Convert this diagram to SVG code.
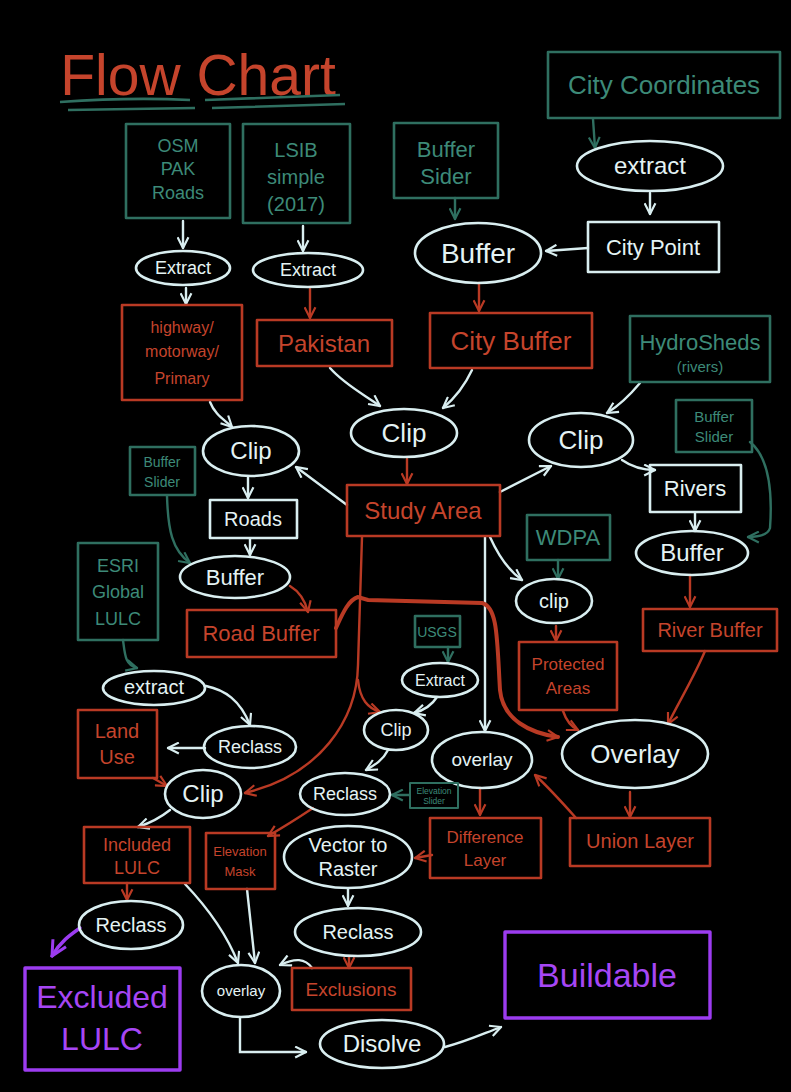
<svg xmlns="http://www.w3.org/2000/svg" width="791" height="1092" viewBox="0 0 791 1092">
<style>
text{font-family:"Liberation Sans",Arial,sans-serif;text-anchor:middle}
.w{fill:none;stroke:#d9eef0;stroke-width:2.6;stroke-linejoin:round}
.r{fill:none;stroke:#b93a24;stroke-width:2.6;stroke-linejoin:round}
.t{fill:none;stroke:#2f6f60;stroke-width:2.6;stroke-linejoin:round}
.p{fill:none;stroke:#9c3cf0;stroke-width:3.4;stroke-linejoin:round}
.tw{fill:#e4f3f4}
.tr{fill:#c5442c}
.tt{fill:#3d8a78}
.tp{fill:#a646f5}
.cw{fill:none;stroke:#d9eef0;stroke-width:2.4;stroke-linecap:round;marker-end:url(#aw)}
.cr{fill:none;stroke:#b93a24;stroke-width:2.4;stroke-linecap:round;marker-end:url(#ar)}
.ct{fill:none;stroke:#2f6f60;stroke-width:2.4;stroke-linecap:round;marker-end:url(#at)}
.cp{fill:none;stroke:#9c3cf0;stroke-width:3.4;stroke-linecap:round;marker-end:url(#ap)}
</style>
<defs>
<marker id="aw" viewBox="0 0 12 12" refX="11" refY="6" markerWidth="13" markerHeight="13" markerUnits="userSpaceOnUse" orient="auto"><path d="M1,1 L11,6 L1,11" fill="none" stroke="#d9eef0" stroke-width="2"/></marker>
<marker id="ar" viewBox="0 0 12 12" refX="11" refY="6" markerWidth="13" markerHeight="13" markerUnits="userSpaceOnUse" orient="auto"><path d="M1,1 L11,6 L1,11" fill="none" stroke="#b93a24" stroke-width="2"/></marker>
<marker id="at" viewBox="0 0 12 12" refX="11" refY="6" markerWidth="13" markerHeight="13" markerUnits="userSpaceOnUse" orient="auto"><path d="M1,1 L11,6 L1,11" fill="none" stroke="#2f6f60" stroke-width="2"/></marker>
<marker id="ap" viewBox="0 0 12 12" refX="11" refY="6" markerWidth="18" markerHeight="18" markerUnits="userSpaceOnUse" orient="auto"><path d="M1,1 L11,6 L1,11" fill="none" stroke="#9c3cf0" stroke-width="2"/></marker>
</defs>
<rect x="0" y="0" width="791" height="1092" fill="#000"/>

<g id="title">
<text x="198" y="95" class="tr" font-size="57">Flow Chart</text>
<path class="t" d="M60,102 Q130,97 190,100 M68,110 L195,108 M205,100 L340,95 M212,108 L345,104"/>
</g>

<g id="connectors">
<path class="cw" d="M183,221 L183,248"/>
<path class="cw" d="M186,288 L186,304"/>
<path class="cw" d="M303,226 L303,251"/>
<path class="cw" d="M650,193 L650,214"/>
<path class="cw" d="M588,248 L546,251"/>
<path class="cw" d="M210,402 C215,415 225,420 232,427"/>
<path class="cw" d="M330,368 C345,385 365,395 380,406"/>
<path class="cw" d="M472,370 C465,385 455,398 443,408"/>
<path class="cw" d="M640,383 C630,395 620,405 607,413"/>
<path class="cw" d="M347,505 L296,467"/>
<path class="cw" d="M500,492 L551,466"/>
<path class="cw" d="M622,460 C632,467 645,470 655,470"/>
<path class="cw" d="M248,477 L248,498"/>
<path class="cw" d="M250,539 L250,555"/>
<path class="cw" d="M695,513 L695,531"/>
<path class="cw" d="M206,686 C225,690 240,700 250,725"/>
<path class="cw" d="M205,748 L168,748"/>
<path class="cw" d="M485,537 L485,731"/>
<path class="cw" d="M490,537 C498,555 508,570 522,580"/>
<path class="cw" d="M437,697 C432,705 425,710 414,713"/>
<path class="cw" d="M388,750 C383,760 375,765 366,770"/>
<path class="cw" d="M170,810 C160,818 150,823 138,827"/>
<path class="cw" d="M185,884 C205,905 225,930 238,963"/>
<path class="cw" d="M247,889 L255,963"/>
<path class="cw" d="M312,968 C305,958 295,958 280,965"/>
<path class="cw" d="M348,889 L348,906"/>
<path class="cw" d="M240,1018 L240,1052 L306,1052"/>
<path class="cw" d="M445,1047 C465,1042 480,1035 501,1027"/>

<path class="cr" d="M310,289 L310,318"/>
<path class="cr" d="M479,283 L479,311"/>
<path class="cr" d="M407,459 L407,484"/>
<path class="cr" d="M690,575 L690,607"/>
<path class="cr" d="M290,586 C300,592 305,600 308,612"/>
<path class="cr" d="M153,778 L167,786"/>
<path class="cr" d="M556,626 L556,641"/>
<path class="cr" d="M563,711 C566,720 570,726 578,730"/>
<path class="cr" d="M705,651 C695,675 680,700 668,724"/>
<path class="cr" d="M480,788 L480,815"/>
<path class="cr" d="M630,792 L630,817"/>
<path class="cr" d="M576,818 C560,800 548,787 535,775"/>
<path class="cr" d="M432,855 L415,858"/>
<path class="cr" d="M313,808 C295,820 282,828 268,836"/>
<path class="cr" d="M127,883 L127,900"/>
<path class="cr" d="M349,956 L349,968"/>
<path class="cr" d="M362,537 L358,665 C357,720 320,775 245,793"/>
<path class="cr" d="M358,680 C360,700 368,708 380,712"/>
<path class="cr" style="stroke-width:4" d="M336,628 C342,615 348,600 358,597 L368,600 L482,603 C498,607 497,640 500,690 C503,720 530,733 558,737"/>

<path class="ct" d="M455,198 L455,219"/>
<path class="ct" d="M593,119 L595,148"/>
<path class="ct" d="M750,442 C772,460 772,500 770,528 C768,535 760,537 748,537"/>
<path class="ct" d="M167,496 C168,530 172,550 190,563"/>
<path class="ct" d="M123,640 C125,655 125,665 137,668"/>
<path class="ct" d="M558,560 L558,579"/>
<path class="ct" d="M448,647 L448,662"/>
<path class="ct" d="M409,795 L392,795"/>

<path class="cp" d="M80,928 C70,935 60,942 52,956"/>
</g>

<g id="n_osm"><rect class="t" x="126" y="124" width="104" height="94"/><text class="tt" font-size="18" x="178" y="152">OSM</text><text class="tt" font-size="18" x="178" y="175">PAK</text><text class="tt" font-size="18" x="178" y="199">Roads</text></g>
<g id="n_lsib"><rect class="t" x="243" y="124" width="107" height="99"/><text class="tt" font-size="20" x="296" y="157">LSIB</text><text class="tt" font-size="20" x="296" y="184">simple</text><text class="tt" font-size="20" x="296" y="211">(2017)</text></g>
<g id="n_bufsider"><rect class="t" x="394" y="123" width="104" height="75"/><text class="tt" font-size="22" x="446" y="157">Buffer</text><text class="tt" font-size="22" x="446" y="184">Sider</text></g>
<g id="n_citycoord"><rect class="t" x="548" y="52" width="232" height="66"/><text class="tt" font-size="26" x="664" y="94">City Coordinates</text></g>

<g id="n_extract1"><ellipse class="w" cx="183" cy="268" rx="47" ry="17"/><text class="tw" font-size="18" x="183" y="274">Extract</text></g>
<g id="n_extract2"><ellipse class="w" cx="308" cy="270" rx="55" ry="17"/><text class="tw" font-size="18" x="308" y="276">Extract</text></g>
<g id="n_extract3"><ellipse class="w" cx="650" cy="166" rx="73" ry="25"/><text class="tw" font-size="24" x="650" y="174">extract</text></g>
<g id="n_buffer1"><ellipse class="w" cx="478" cy="253" rx="63" ry="30"/><text class="tw" font-size="28" x="478" y="263">Buffer</text></g>
<g id="n_citypoint"><rect class="w" x="588" y="222" width="131" height="50"/><text class="tw" font-size="22" x="653" y="255">City Point</text></g>

<g id="n_highway"><rect class="r" x="122" y="305" width="120" height="95"/><text class="tr" font-size="16" x="182" y="333">highway/</text><text class="tr" font-size="16" x="182" y="357">motorway/</text><text class="tr" font-size="16" x="182" y="384">Primary</text></g>
<g id="n_pakistan"><rect class="r" x="257" y="320" width="135" height="46"/><text class="tr" font-size="24" x="324" y="352">Pakistan</text></g>
<g id="n_citybuffer"><rect class="r" x="430" y="313" width="162" height="55"/><text class="tr" font-size="26" x="511" y="350">City Buffer</text></g>
<g id="n_hydro"><rect class="t" x="630" y="316" width="140" height="66"/><text class="tt" font-size="22" x="700" y="350">HydroSheds</text><text class="tt" font-size="15" x="700" y="372">(rivers)</text></g>

<g id="n_clip1"><ellipse class="w" cx="251" cy="451" rx="48" ry="25"/><text class="tw" font-size="24" x="251" y="459">Clip</text></g>
<g id="n_clip2"><ellipse class="w" cx="404" cy="433" rx="53" ry="24"/><text class="tw" font-size="26" x="404" y="442">Clip</text></g>
<g id="n_clip3"><ellipse class="w" cx="581" cy="440" rx="52" ry="27"/><text class="tw" font-size="26" x="581" y="449">Clip</text></g>
<g id="n_bslider_r"><rect class="t" x="676" y="400" width="76" height="52"/><text class="tt" font-size="15" x="714" y="422">Buffer</text><text class="tt" font-size="15" x="714" y="442">Slider</text></g>
<g id="n_bslider_l"><rect class="t" x="130" y="447" width="65" height="48"/><text class="tt" font-size="14" x="162" y="467">Buffer</text><text class="tt" font-size="14" x="162" y="487">Slider</text></g>
<g id="n_study"><rect class="r" x="347" y="485" width="153" height="51"/><text class="tr" font-size="24" x="423" y="519">Study Area</text></g>
<g id="n_roads"><rect class="w" x="210" y="500" width="87" height="38"/><text class="tw" font-size="20" x="253" y="526">Roads</text></g>
<g id="n_rivers"><rect class="w" x="650" y="465" width="91" height="47"/><text class="tw" font-size="22" x="695" y="496">Rivers</text></g>
<g id="n_wdpa"><rect class="t" x="527" y="515" width="83" height="45"/><text class="tt" font-size="22" x="568" y="545">WDPA</text></g>
<g id="n_buffer2"><ellipse class="w" cx="235" cy="577" rx="55" ry="21"/><text class="tw" font-size="22" x="235" y="585">Buffer</text></g>
<g id="n_buffer3"><ellipse class="w" cx="692" cy="553" rx="56" ry="22"/><text class="tw" font-size="24" x="692" y="561">Buffer</text></g>
<g id="n_esri"><rect class="t" x="78" y="543" width="80" height="97"/><text class="tt" font-size="18" x="118" y="572">ESRI</text><text class="tt" font-size="18" x="118" y="598">Global</text><text class="tt" font-size="18" x="118" y="625">LULC</text></g>
<g id="n_roadbuffer"><rect class="r" x="187" y="610" width="149" height="47"/><text class="tr" font-size="22" x="261" y="641">Road Buffer</text></g>
<g id="n_clip4"><ellipse class="w" cx="554" cy="601" rx="38" ry="22"/><text class="tw" font-size="20" x="554" y="608">clip</text></g>
<g id="n_riverbuffer"><rect class="r" x="643" y="609" width="134" height="42"/><text class="tr" font-size="20" x="710" y="637">River Buffer</text></g>
<g id="n_usgs"><rect class="t" x="415" y="616" width="45" height="31"/><text class="tt" font-size="14" x="437" y="637">USGS</text></g>
<g id="n_extract4"><ellipse class="w" cx="440" cy="680" rx="38" ry="17"/><text class="tw" font-size="16" x="440" y="686">Extract</text></g>
<g id="n_protected"><rect class="r" x="519" y="642" width="98" height="68"/><text class="tr" font-size="17" x="568" y="670">Protected</text><text class="tr" font-size="17" x="568" y="694">Areas</text></g>
<g id="n_extract5"><ellipse class="w" cx="154" cy="688" rx="51" ry="17"/><text class="tw" font-size="20" x="154" y="694">extract</text></g>
<g id="n_landuse"><rect class="r" x="78" y="710" width="79" height="68"/><text class="tr" font-size="20" x="117" y="738">Land</text><text class="tr" font-size="20" x="117" y="764">Use</text></g>
<g id="n_reclass1"><ellipse class="w" cx="250" cy="747" rx="46" ry="21"/><text class="tw" font-size="18" x="250" y="753">Reclass</text></g>
<g id="n_clip5"><ellipse class="w" cx="396" cy="730" rx="32" ry="20"/><text class="tw" font-size="18" x="396" y="736">Clip</text></g>
<g id="n_overlay1"><ellipse class="w" cx="482" cy="760" rx="50" ry="28"/><text class="tw" font-size="19" x="482" y="766">overlay</text></g>
<g id="n_overlay2"><ellipse class="w" cx="635" cy="754" rx="73" ry="34"/><text class="tw" font-size="26" x="635" y="763">Overlay</text></g>
<g id="n_clip6"><ellipse class="w" cx="203" cy="794" rx="38" ry="24"/><text class="tw" font-size="24" x="203" y="802">Clip</text></g>
<g id="n_reclass2"><ellipse class="w" cx="345" cy="794" rx="45" ry="21"/><text class="tw" font-size="18" x="345" y="800">Reclass</text></g>
<g id="n_elevslider"><rect class="t" x="410" y="783" width="48" height="25" style="stroke-width:2"/><text class="tt" font-size="8.5" x="434" y="794">Elevation</text><text class="tt" font-size="8.5" x="434" y="804">Slider</text></g>
<g id="n_difference"><rect class="r" x="430" y="818" width="111" height="60"/><text class="tr" font-size="17" x="485" y="843">Difference</text><text class="tr" font-size="17" x="485" y="866">Layer</text></g>
<g id="n_union"><rect class="r" x="570" y="818" width="140" height="48"/><text class="tr" font-size="20" x="640" y="848">Union Layer</text></g>
<g id="n_included"><rect class="r" x="84" y="827" width="106" height="56"/><text class="tr" font-size="18" x="137" y="851">Included</text><text class="tr" font-size="18" x="137" y="874">LULC</text></g>
<g id="n_elevmask"><rect class="r" x="206" y="833" width="69" height="56"/><text class="tr" font-size="13" x="240" y="856">Elevation</text><text class="tr" font-size="13" x="240" y="876">Mask</text></g>
<g id="n_vtr"><ellipse class="w" cx="348" cy="857" rx="64" ry="31"/><text class="tw" font-size="20" x="348" y="852">Vector to</text><text class="tw" font-size="20" x="348" y="876">Raster</text></g>
<g id="n_reclass3"><ellipse class="w" cx="131" cy="925" rx="52" ry="24"/><text class="tw" font-size="20" x="131" y="932">Reclass</text></g>
<g id="n_reclass4"><ellipse class="w" cx="358" cy="932" rx="63" ry="24"/><text class="tw" font-size="20" x="358" y="939">Reclass</text></g>
<g id="n_excluded"><rect class="p" x="25" y="968" width="155" height="102"/><text class="tp" font-size="32" x="102" y="1008">Excluded</text><text class="tp" font-size="32" x="102" y="1050">LULC</text></g>
<g id="n_overlay3"><ellipse class="w" cx="241" cy="991" rx="39" ry="26"/><text class="tw" font-size="15" x="241" y="996">overlay</text></g>
<g id="n_exclusions"><rect class="r" x="292" y="968" width="119" height="42"/><text class="tr" font-size="19" x="351" y="996">Exclusions</text></g>
<g id="n_disolve"><ellipse class="w" cx="382" cy="1044" rx="62" ry="24"/><text class="tw" font-size="24" x="382" y="1052">Disolve</text></g>
<g id="n_buildable"><rect class="p" x="505" y="932" width="205" height="86"/><text class="tp" font-size="34" x="607" y="987">Buildable</text></g>
</svg>
